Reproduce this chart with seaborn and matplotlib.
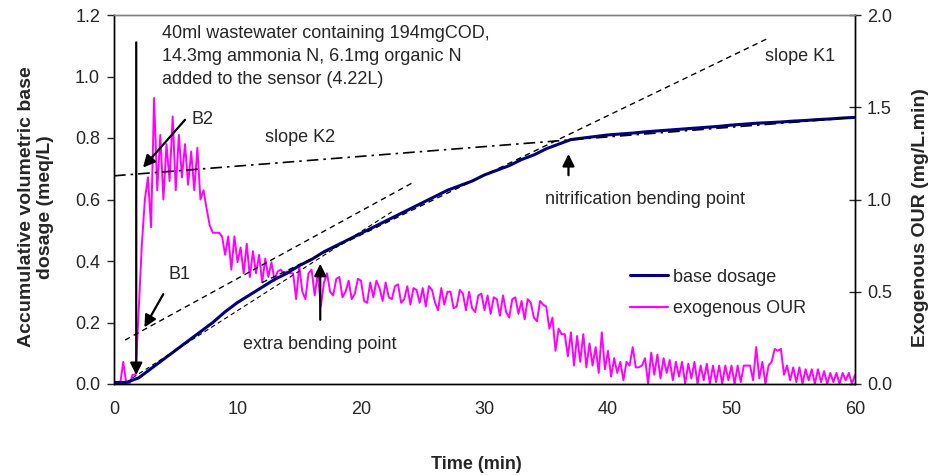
import numpy as np
import pandas as pd
import matplotlib
matplotlib.use("Agg")
import matplotlib.pyplot as plt
from matplotlib.lines import Line2D
import seaborn as sns

# ---------------- data ----------------
base_time = list(range(0, 61))
base_dosage = [0.005, 0.005, 0.02, 0.05, 0.08, 0.11, 0.14, 0.17, 0.20, 0.235,
               0.265, 0.29, 0.315, 0.34, 0.36, 0.385, 0.405, 0.43, 0.45, 0.47,
               0.49, 0.51, 0.53, 0.55, 0.57, 0.59, 0.61, 0.63, 0.645, 0.66,
               0.68, 0.695, 0.71, 0.73, 0.745, 0.765, 0.78, 0.795, 0.80, 0.805,
               0.81, 0.813, 0.816, 0.82, 0.823, 0.826, 0.829, 0.832, 0.835, 0.838,
               0.842, 0.845, 0.848, 0.85, 0.852, 0.855, 0.857, 0.86, 0.862, 0.865,
               0.867]

our_time = [i * 0.25 for i in range(241)]
our_values = [
    0, 0, 0, 0.12, 0, 0, 0.05, 0.05, 0.40, 0.75, 1.00, 1.12, 0.85, 1.55, 1.05, 1.35, 1.00, 1.30, 1.10, 1.45,
    1.05, 1.35, 1.12, 1.30, 1.08, 1.26, 1.05, 1.28, 1.00, 1.05, 0.95, 0.86, 0.82, 0.82, 0.82, 0.80, 0.70, 0.80, 0.62, 0.80,
    0.66, 0.74, 0.60, 0.76, 0.58, 0.72, 0.60, 0.70, 0.55, 0.68, 0.58, 0.66, 0.56, 0.61, 0.62, 0.60, 0.61, 0.60, 0.60, 0.46,
    0.64, 0.50, 0.46, 0.60, 0.62, 0.48, 0.60, 0.42, 0.55, 0.60, 0.50, 0.48, 0.57, 0.58, 0.47, 0.50, 0.56, 0.46, 0.49, 0.57,
    0.56, 0.45, 0.44, 0.55, 0.47, 0.56, 0.52, 0.45, 0.55, 0.47, 0.46, 0.53, 0.54, 0.44, 0.46, 0.53, 0.43, 0.52, 0.51, 0.44,
    0.52, 0.42, 0.53, 0.51, 0.44, 0.40, 0.52, 0.43, 0.50, 0.50, 0.41, 0.42, 0.51, 0.49, 0.40, 0.50, 0.41, 0.39, 0.48, 0.49,
    0.40, 0.48, 0.38, 0.47, 0.46, 0.37, 0.48, 0.39, 0.36, 0.46, 0.47, 0.38, 0.45, 0.35, 0.46, 0.44, 0.36, 0.34, 0.45, 0.43,
    0.42, 0.30, 0.36, 0.18, 0.30, 0.27, 0.27, 0.15, 0.28, 0.10, 0.26, 0.12, 0.27, 0.09, 0.22, 0.10, 0.20, 0.06, 0.28, 0.08,
    0.18, 0.04, 0.14, 0.06, 0.12, 0.02, 0.12, 0.10, 0.20, 0.09, 0.09, 0.10, 0.14, 0.00, 0.17, 0.05, 0.16, 0.03, 0.14, 0.06,
    0.13, 0.02, 0.12, 0.04, 0.12, 0.00, 0.11, 0.03, 0.12, 0.00, 0.10, 0.02, 0.11, 0.00, 0.10, 0.01, 0.10, 0.00, 0.10, 0.02,
    0.10, 0.00, 0.10, 0.01, 0.10, 0.10, 0.10, 0.02, 0.20, 0.03, 0.12, 0.00, 0.10, 0.12, 0.19, 0.18, 0.19, 0.05, 0.10, 0.02,
    0.09, 0.01, 0.09, 0.00, 0.08, 0.02, 0.08, 0.00, 0.08, 0.01, 0.07, 0.00, 0.06, 0.01, 0.06, 0.00, 0.06, 0.02, 0.06, 0.00, 0.05,
]

# tangent lines (data coordinates: time, base dosage)
k2_time, k2_value = [0, 60], [0.677, 0.867]
k1_time, k1_value = [12, 53], [0.33, 1.125]
init_time, init_value = [1.5, 22.5], [0.02, 0.56]
b1_time, b1_value = [0.9, 24.2], [0.143, 0.655]

x_ticks = [0, 10, 20, 30, 40, 50, 60]
left_ticks = [0.0, 0.2, 0.4, 0.6, 0.8, 1.0, 1.2]
right_ticks = [0.0, 0.5, 1.0, 1.5, 2.0]

base_df = pd.DataFrame({"time": base_time, "base": base_dosage})
our_df = pd.DataFrame({"time": our_time, "our": our_values})

# ---------------- style ----------------
sns.set_style("white")
plt.rcParams["font.family"] = ["Liberation Sans", "DejaVu Sans"]
FS = 13

fig = plt.figure(figsize=(9.32, 4.75), dpi=100)
ax = fig.add_axes([114 / 932, 1 - 384 / 475, 741 / 932, 369 / 475])
ax2 = ax.twinx()
ax.set_zorder(ax2.get_zorder() + 1)
ax.patch.set_visible(False)

navy = "#000080"
magenta = "#FF00FF"

sns.lineplot(data=our_df, x="time", y="our", ax=ax2, color=magenta, lw=1.4, legend=False)
sns.lineplot(data=base_df, x="time", y="base", ax=ax, color=navy, lw=2.2, legend=False)

# tangent lines
ax.plot(k2_time, k2_value, color="black", lw=1.2, dashes=(7, 3, 1.5, 3))
ax.plot(k1_time, k1_value, color="black", lw=1.0, dashes=(4, 3))
ax.plot(init_time, init_value, color="black", lw=0.8, dashes=(4, 3))
ax.plot(b1_time, b1_value, color="black", lw=1.0, dashes=(4, 3))

# axes
ax.set_xlim(0, 60)
ax.set_ylim(0, 1.2)
ax2.set_ylim(0, 2.0)
ax.set_xticks(x_ticks)
ax.set_yticks(left_ticks)
ax.set_yticklabels([f"{v:.1f}" for v in left_ticks])
ax2.set_yticks(right_ticks)
ax2.set_yticklabels([f"{v:.1f}" for v in right_ticks])

for a in (ax, ax2):
    a.spines["top"].set_color("#808080")
    a.spines["left"].set_color("black")
    a.spines["right"].set_color("black")
    a.spines["bottom"].set_color("black")
    for s in a.spines.values():
        s.set_linewidth(1.0)

ax.tick_params(axis="x", direction="out", length=5, width=1, labelsize=FS, pad=7)
ax.tick_params(axis="y", direction="out", length=5, width=1, labelsize=FS, pad=5)
ax2.tick_params(axis="y", direction="inout", length=9, width=1, labelsize=FS, pad=4)

ax.set_xlabel("Time (min)", fontsize=FS, fontweight="bold")
ax.set_ylabel("Accumulative volumetric base\ndosage (meq/L)", fontsize=14,
              fontweight="bold", linespacing=1.15)
ax2.set_ylabel("Exogenous OUR (mg/L.min)", fontsize=14, fontweight="bold")
ax.xaxis.set_label_coords(0.489, -0.196)
ax.yaxis.set_label_coords(-0.081, 0.48)
ax2.yaxis.set_label_coords(1.077, 0.45)

# annotations
arrow_big = dict(arrowstyle="-|>", color="black", lw=1.6, mutation_scale=18)
ax.annotate("", xy=(1.8, 0.02), xytext=(1.8, 1.12), arrowprops=arrow_big)
ax.annotate("", xy=(2.2, 0.697), xytext=(5.9, 0.866), arrowprops=arrow_big)
ax.annotate("", xy=(2.35, 0.176), xytext=(4.1, 0.30), arrowprops=arrow_big)
ax.annotate("", xy=(36.8, 0.757), xytext=(36.8, 0.67), arrowprops=arrow_big)
ax.annotate("", xy=(16.7, 0.40), xytext=(16.7, 0.20), arrowprops=arrow_big)

ax.text(3.9, 1.168, "40ml wastewater containing 194mgCOD,\n14.3mg ammonia N, 6.1mg organic N\nadded to the sensor (4.22L)",
        ha="left", va="top", fontsize=FS, linespacing=1.45)
ax.text(6.3, 0.86, "B2", ha="left", va="center", fontsize=FS)
ax.text(4.4, 0.355, "B1", ha="left", va="center", fontsize=FS)
ax.text(12.2, 0.80, "slope K2", ha="left", va="center", fontsize=FS)
ax.text(52.7, 1.065, "slope K1", ha="left", va="center", fontsize=FS)
ax.text(34.9, 0.60, "nitrification bending point", ha="left", va="center", fontsize=FS)
ax.text(10.45, 0.127, "extra bending point", ha="left", va="center", fontsize=FS)

# legend
handles = [Line2D([], [], color=navy, lw=2.2), Line2D([], [], color=magenta, lw=1.6)]
ax.legend(handles, ["base dosage", "exogenous OUR"], loc="center left",
          bbox_to_anchor=(0.675, 0.247), frameon=False, fontsize=FS,
          handlelength=2.1, handletextpad=0.25, labelspacing=0.8)

fig.savefig("out.png", dpi=100)
